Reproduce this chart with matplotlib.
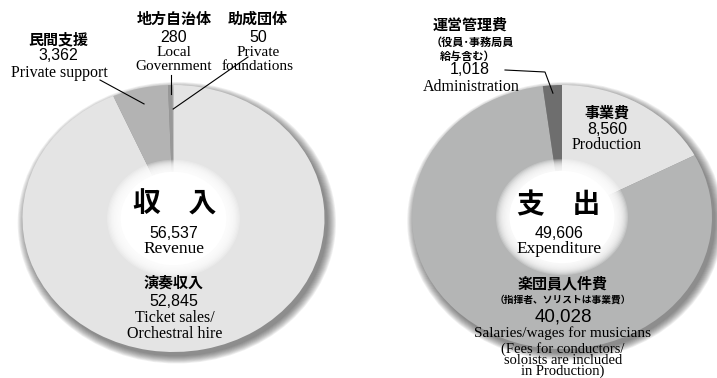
import matplotlib
matplotlib.use('Agg')
import matplotlib.pyplot as plt
from matplotlib.patches import Ellipse
import numpy as np

# revenue side (unit: 10,000 yen)
rev_labels_jp = ['演奏収入', '民間支援', '地方自治体', '助成団体']
rev_values = [52845, 3362, 280, 50]
rev_total = 56537
rev_colors = ['#e4e4e4', '#b3b3b3', '#989898', '#cdcdcd']

# expenditure side
exp_labels_jp = ['事業費', '楽団員人件費', '運営管理費']
exp_values = [8560, 40028, 1018]
exp_total = 49606
exp_colors = ['#e4e4e4', '#b4b5b5', '#6e6e6e']

W, H = 717, 378
JP = ['Noto Sans CJK JP', 'DejaVu Sans']
NUM = ['Liberation Sans', 'DejaVu Sans']
SERIF = ['Liberation Serif', 'DejaVu Serif']

fig = plt.figure(figsize=(W / 100, H / 100), dpi=100)
fig.patch.set_facecolor('white')

LIM = 1.3


def donut(cx, cy, rx, ry, values, colors):
    w, h = 2 * LIM * rx, 2 * LIM * ry
    ax = fig.add_axes([(cx - w / 2) / W, (H - cy - h / 2) / H, w / W, h / H])
    # soft drop shadow under the ring
    for k in range(10):
        r = 1.0 + k * 0.006
        ax.add_patch(Ellipse((0.022, -0.032), 2 * r, 2 * r, color='#3a3a3a',
                             alpha=0.08, lw=0, zorder=0))
    wedges, _ = ax.pie(values, colors=colors, startangle=90, counterclock=False,
                       radius=1.0, wedgeprops=dict(linewidth=0, zorder=2))
    # white hole with a blurred rim
    for k in range(12):
        r = 0.44 - k * 0.008
        ax.add_patch(Ellipse((0, 0), 2 * r, 2 * r, color='white',
                             alpha=0.22, lw=0, zorder=3))
    ax.add_patch(Ellipse((0, 0), 2 * 0.35, 2 * 0.35, color='white', lw=0, zorder=3))
    ax.set_aspect('auto')
    ax.set_xlim(-LIM, LIM)
    ax.set_ylim(-LIM, LIM)
    ax.axis('off')
    return ax, wedges


ax_rev, w_rev = donut(173.5, 218.5, 151, 133.5, rev_values, rev_colors)
ax_exp, w_exp = donut(562, 217, 150, 132, exp_values, exp_colors)

ov = fig.add_axes([0, 0, 1, 1])
ov.set_xlim(0, W)
ov.set_ylim(H, 0)
ov.axis('off')


def wedge_point(ax, wedge, r):
    a = np.deg2rad((wedge.theta1 + wedge.theta2) / 2)
    p = ax.transData.transform((r * np.cos(a), r * np.sin(a)))
    return ov.transData.inverted().transform(p)


def txt(x, y, s, fam, size, bold=False, ls=1.2):
    ov.text(x, y, s, family=fam, fontsize=size, ha='center', va='center',
            fontweight='bold' if bold else 'normal', color='black',
            linespacing=ls, multialignment='center')


def fmt(v):
    return f'{v:,}'


# --- revenue labels
txt(58, 39, rev_labels_jp[1], JP, 10.8, True)
txt(58, 56, fmt(rev_values[1]), NUM, 11.5)
txt(59, 73, 'Private support', SERIF, 11.5)

txt(174, 19, rev_labels_jp[2], JP, 10.8, True)
txt(174, 37, fmt(rev_values[2]), NUM, 11.5)
txt(174, 53, 'Local', SERIF, 11)
txt(174, 66, 'Government', SERIF, 11)

txt(258, 19, rev_labels_jp[3], JP, 10.8, True)
txt(258, 37, fmt(rev_values[3]), NUM, 11.5)
txt(258, 53, 'Private', SERIF, 11)
txt(258, 66, 'foundations', SERIF, 11)

txt(175, 205, '収\u3000入', JP, 20, True)
txt(174, 233, fmt(rev_total), NUM, 11.5)
txt(174, 249, 'Revenue', SERIF, 12.5)

txt(174, 283, rev_labels_jp[0], JP, 10.8, True)
txt(174, 301, fmt(rev_values[0]), NUM, 11.5)
txt(175, 318, 'Ticket sales/', SERIF, 11.5)
txt(175, 334, 'Orchestral hire', SERIF, 11.5)

# leader lines, revenue
p = wedge_point(ax_rev, w_rev[1], 0.88)
ov.plot([100, p[0]], [80, p[1]], color='black', lw=0.8)
p = wedge_point(ax_rev, w_rev[2], 0.93)
ov.plot([p[0], p[0]], [75, p[1]], color='black', lw=0.8)
p = wedge_point(ax_rev, w_rev[3], 0.82)
ov.plot([248, p[0]], [57, p[1]], color='black', lw=0.8)

# --- expenditure labels
txt(470, 25, exp_labels_jp[2], JP, 10.8, True)
txt(472, 42, '（役員･事務局員', JP, 8, True)
txt(468, 56, '給与含む）', JP, 8, True)
txt(470, 70, fmt(exp_values[2]), NUM, 11.5)
txt(471, 87, 'Administration', SERIF, 11.5)

txt(607, 113, exp_labels_jp[0], JP, 10.8, True)
txt(607, 130, fmt(exp_values[0]), NUM, 11.5)
txt(607, 145, 'Production', SERIF, 11.5)

txt(559, 205, '支\u3000出', JP, 20, True)
txt(559, 233, fmt(exp_total), NUM, 11.5)
txt(559, 249, 'Expenditure', SERIF, 12.5)

txt(563, 283, exp_labels_jp[1], JP, 10.8, True)
txt(563, 300, '（指揮者、ソリストは事業費）', JP, 7, True)
txt(563, 317, fmt(exp_values[1]), NUM, 13.5)
txt(563, 333, 'Salaries/wages for musicians', SERIF, 11)
txt(563, 360, '(Fees for conductors/\nsoloists are included\nin Production)',
    SERIF, 10.5, ls=0.82)

p = wedge_point(ax_exp, w_exp[2], 0.94)
ov.plot([505, 545, p[0]], [70, 72, p[1]], color='black', lw=0.8)

fig.savefig('out.png', dpi=100, facecolor='white')
